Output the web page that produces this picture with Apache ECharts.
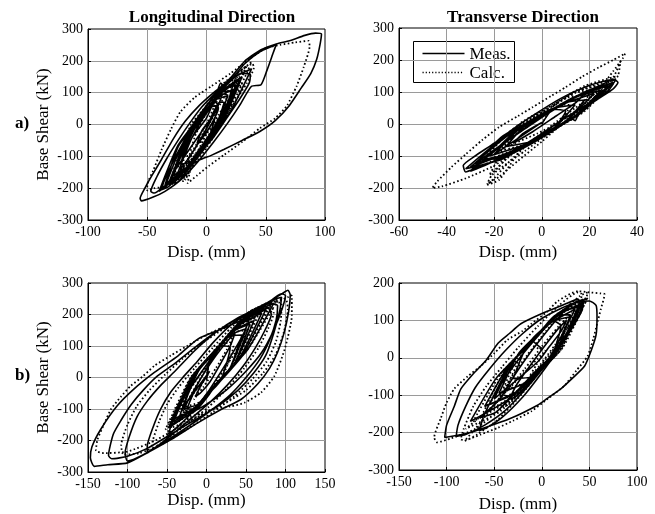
<!DOCTYPE html>
<html>
<head>
<meta charset="utf-8">
<script src="https://cdn.jsdelivr.net/npm/echarts@6/dist/echarts.min.js"></script>
<style>
  html, body { margin: 0; padding: 0; background: #fff; }
  #chart { width: 655px; height: 514px; }
</style>
</head>
<body>
<div id="chart"></div>
<script>
// [disp (mm), base shear (kN)] traces

// a) longitudinal, measured
const aLongMeas = [
  [0,-10],[6,40],[11,70],[15,70],[6,-30],[-2.5,-72],[-11,-115],[-22,-125],[-11,-10],[0,45],[11,100],[22,105],[11,-10],
  [0,-65],[-11,-120],[-28,-160],[-14,-35],[0,35],[15,110],[30,150],[15,20],[0,-55],[-14,-125],[-35,-190],[-24,-70],
  [-12,-10],[0,50],[10,60],[0,-65],[-12,-125],[-24,-180],[-32,-185],[-15,-35],[3,55],[20,140],[38,175],[20,40],[3,-45],
  [-15,-135],[-40,-210],[-24,-65],[-8,15],[9,100],[25,125],[9,-5],[-8,-90],[-24,-170],[-30,-180],[-18,-45],[-6,15],[6,75],
  [18,90],[6,-25],[-6,-85],[-18,-145],[-25,-160],[-12,-40],[0,20],[8,90],[12,130],[16,115],[22,120],[18,70],[10,15],
  [0,-50],[-10,-105],[-20,-150],[-28,-180],[-30,-175],[-24,-120],[-15,-50],[-5,20],[8,85],[20,135],[30,160],[37,158],
  [36,130],[28,80],[18,25],[6,-40],[-8,-100],[-20,-150],[-32,-195],[-38,-205],[-36,-180],[-28,-115],[-18,-45],[-6,30],
  [8,95],[22,145],[32,190],[45,228],[55,245],[59,253],[56,222],[51,170],[46,125],[38,120],[28,60],[18,5],[6,-55],
  [-8,-120],[-22,-175],[-35,-210],[-45,-228],[-55,-240],[-56,-232],[-52,-200],[-46,-160],[-38,-110],[-28,-45],[-18,10],
  [-6,60],[6,100],[18,136],[32,198],[46,235],[59,253],[70,263],[83,280],[92,287],[97,284],[96,255],[93,205],[88,160],
  [80,115],[70,60],[58,12],[45,-22],[30,-50],[15,-78],[4,-97],[-6,-112],[-16,-135],[-26,-165],[-36,-195],[-44,-215],
  [-47,-210],[-42,-165],[-34,-110],[-24,-50],[-14,5],[-4,55],[8,100],[14,120],[12,80],[6,30],[-4,-40],[-14,-100],
  [-22,-140],[-20,-100],[-12,-40],[-2,25],[8,70],[10,50],[4,0],[-4,-45],[-8,-60],[-4,-20],[2,10],[-26,-140],[-14,-35],
  [-2,25],[10,85],[22,110],[10,-5],[-2,-65],[-14,-125],[-34,-185],[-20,-60],[-5,15],[10,90],[28,140],[10,-10],[-5,-85],
  [-20,-160],[-28,-170]
];
// a) longitudinal, calculated
const aLongCalc = [
  [0,0],[7,60],[14,95],[18,95],[8,-5],[-1,-50],[-10,-95],[-20,-100],[-10,10],[0,60],[10,105],[24,125],[12,15],[0,-50],
  [-12,-110],[-26,-135],[-13,0],[0,55],[14,125],[34,185],[16,30],[0,-55],[-12,-130],[-20,-180],[-10,-40],[2,50],[16,130],
  [38,195],[20,50],[4,-50],[-12,-135],[-30,-190],[-18,-60],[-4,30],[10,100],[26,140],[12,25],[-2,-60],[-16,-140],
  [-24,-165],[-10,-80],[2,0],[14,80],[26,150],[38,195],[40,180],[34,130],[22,60],[8,-20],[-8,-100],[-22,-165],[-34,-195],
  [-44,-200],[-50,-208],[-50,-190],[-45,-145],[-38,-80],[-30,-15],[-22,40],[-10,85],[4,120],[20,160],[36,205],[50,240],
  [62,250],[75,258],[86,263],[87,245],[82,180],[76,120],[68,60],[58,20],[45,-12],[30,-55],[15,-95],[2,-130],[-8,-160],
  [-16,-185],[-14,-150],[-8,-90],[0,-30],[10,30],[22,90],[30,130],[27,100],[16,40],[2,-40],[-10,-110],[-18,-175],
  [-14,-145],[-6,-85],[4,-20],[14,40],[18,60],[10,20],[0,-30],[-6,-60],[-2,-20],[-22,-150],[-10,5],[2,60],[14,120],
  [28,150],[14,25],[2,-45],[-10,-100],[-30,-170],[-16,-25],[0,55],[16,135],[32,170],[16,35],[0,-45],[-16,-125],[-26,-160]
];
// a) transverse, measured
const aTranMeas = [
  [0,0],[5,46],[10,40],[5,-14],[0,-35],[-5,-56],[-15,-70],[-7,-4],[1.5,31],[10,67],[18,75],[10,7],[1.5,-29],[-7,-64],
  [-22,-100],[-10,-15],[1,31],[13,82],[25,105],[13,18],[1,-31],[-10,-79],[-28,-125],[-17,-41],[-7,1],[4,47],[14,60],
  [4,-23],[-7,-69],[-17,-111],[-32,-140],[-16,-42],[0,25],[16,92],[30,130],[16,32],[0,-35],[-16,-102],[-25,-115],
  [-13,-45],[-3,10],[8,60],[18,100],[26,125],[30,140],[32,130],[30,110],[24,80],[16,40],[14,10],[13,15],[6,-15],
  [-4,-60],[-16,-105],[-27,-135],[-32,-150],[-33,-130],[-28,-100],[-20,-60],[-12,-15],[-3,30],[8,80],[18,115],[27,135],
  [31,138],[28,105],[20,65],[10,20],[0,-30],[-12,-85],[-24,-130],[-30,-148],[-26,-115],[-18,-70],[-8,-20],[2,30],[12,75],
  [18,95],[14,65],[6,25],[-4,-25],[-12,-60],[-8,-30],[0,5],[-20,-95],[-10,-19],[0,23],[10,65],[22,95],[10,9],[0,-33],
  [-12,-83],[-30,-135],[-15,-40],[0,23],[15,86],[28,120],[15,30],[0,-33],[-15,-96],[-24,-110]
];
// a) transverse, calculated
const aTranCalc = [
  [0,0],[6,61],[12,58],[6,-9],[0,-35],[-6,-61],[-18,-85],[-8,0],[1,39],[11,83],[20,92],[11,13],[1,-31],[-8,-70],
  [-26,-120],[-12,-15],[1,42],[14,100],[28,128],[14,24],[1,-34],[-12,-91],[-22,-160],[-10,-4],[3,53],[18,119],[32,150],
  [18,40],[5,-18],[-8,-75],[-18,-175],[-23,-190],[-20,-170],[-14,-120],[-6,-65],[4,-5],[14,50],[24,105],[30,145],
  [33,195],[32,150],[28,115],[18,60],[6,0],[-8,-70],[-20,-130],[-32,-170],[-42,-195],[-46,-200],[-44,-180],[-38,-135],
  [-32,-95],[-25,-50],[-18,-10],[-10,25],[-4,52],[4,88],[10,115],[17,148],[24,177],[30,200],[35,220],[34,205],[30,165],
  [25,115],[20,63],[14,30],[7,-10],[0,-45],[-7,-84],[-14,-120],[-21,-160],[-23,-188],[-18,-165],[-10,-115],[0,-55],
  [10,10],[18,55],[26,100],[30,125],[26,95],[16,45],[6,0],[-2,-30],[-16,-75],[-6,9],[4,53],[14,97],[24,110],[12,18],
  [2,-26],[-8,-70],[-28,-140],[-14,-27],[0,35],[16,105],[30,140],[16,35],[2,-26],[-12,-88],[-20,-150]
];
// b) longitudinal, measured
const bLongMeas = [
  [0,-10],[5,64],[18,101],[30,95],[18,-9],[5,-46],[-8,-83],[-30,-100],[-12,16],[8,73],[28,130],[45,135],[28,20],[8,-37],
  [-12,-94],[-40,-130],[-15,7],[10,78],[35,150],[60,180],[35,40],[10,-32],[-15,-103],[-48,-160],[-18,-1],[12,84],
  [45,178],[75,215],[45,68],[12,-26],[-18,-111],[-45,-150],[-14,10],[18,101],[52,198],[85,235],[52,88],[18,-4],[-14,-95],
  [-35,-130],[-14,10],[8,73],[30,135],[50,155],[30,30],[8,-37],[-14,-100],[-25,-100],[-12,-25],[4,45],[20,110],[36,160],
  [48,185],[55,190],[48,145],[36,90],[20,25],[2,-45],[-18,-110],[-36,-155],[-48,-180],[-42,-130],[-30,-70],[-14,-10],
  [6,60],[26,125],[46,175],[66,210],[78,220],[82,200],[74,150],[62,95],[46,35],[26,-25],[4,-80],[-22,-135],[-48,-190],
  [-66,-225],[-75,-240],[-75,-218],[-68,-160],[-58,-100],[-45,-45],[-30,0],[-12,50],[8,110],[30,165],[55,205],[80,235],
  [90,228],[88,180],[80,120],[68,60],[50,0],[30,-55],[8,-100],[-20,-150],[-50,-200],[-80,-245],[-100,-265],[-103,-240],
  [-98,-190],[-88,-125],[-75,-75],[-58,-25],[-40,20],[-15,85],[10,140],[40,190],[70,225],[88,250],[95,255],[93,215],
  [85,140],[75,70],[60,15],[40,-40],[15,-90],[-15,-135],[-45,-180],[-75,-225],[-100,-250],[-120,-258],[-124,-248],
  [-118,-180],[-108,-135],[-95,-85],[-80,-40],[-62,5],[-40,45],[-15,95],[15,150],[45,195],[75,235],[95,265],[103,277],
  [106,262],[104,210],[98,140],[90,80],[80,30],[65,-20],[44,-69],[19,-101],[-11,-144],[-45,-197],[-75,-239],[-100,-271],
  [-125,-277],[-142,-282],[-147,-255],[-145,-220],[-134,-165],[-113,-90],[-92,-37],[-66,16],[-36,69],[-11,122],[19,154],
  [48,186],[74,229],[95,266],[100,260],[96,220],[85,150],[70,80],[50,20],[25,-40],[0,-85],[-20,-110],[-28,-100],[-18,-50],
  [-4,10],[12,70],[28,120],[36,140],[30,100],[18,45],[4,-15],[-8,-50],[-14,-60],[-6,-20],[4,20],[-30,-95],[-10,21],
  [12,84],[34,147],[55,170],[34,37],[12,-25],[-10,-89],[-42,-140],[-18,-1],[10,78],[40,164],[70,205],[40,54],[10,-32],
  [-18,-111],[-30,-110]
];
// b) longitudinal, calculated
const bLongCalc = [
  [0,0],[6,72],[20,112],[34,100],[20,2],[6,-38],[-8,-78],[-32,-95],[-14,15],[8,78],[30,140],[50,150],[30,30],[8,-30],
  [-14,-95],[-44,-135],[-18,4],[10,85],[38,165],[65,195],[38,55],[10,-25],[-18,-105],[-52,-165],[-20,0],[14,95],[48,190],
  [80,225],[48,80],[14,-15],[-20,-110],[-48,-150],[-16,10],[20,112],[55,210],[90,245],[55,100],[20,2],[-16,-100],
  [-35,-140],[-27,-90],[-14,-30],[4,45],[22,115],[40,170],[54,195],[60,195],[52,150],[40,95],[22,25],[2,-50],[-20,-120],
  [-40,-165],[-50,-185],[-44,-135],[-32,-75],[-14,-10],[8,65],[30,135],[52,185],[72,215],[82,225],[85,205],[78,155],
  [66,95],[48,30],[26,-35],[2,-95],[-26,-150],[-52,-200],[-68,-225],[-70,-230],[-68,-200],[-60,-140],[-50,-85],[-35,-30],
  [-15,30],[8,95],[32,160],[58,210],[85,240],[95,235],[94,180],[88,115],[76,50],[58,-5],[35,-60],[8,-110],[-22,-160],
  [-55,-210],[-85,-240],[-105,-245],[-108,-215],[-100,-150],[-88,-90],[-72,-40],[-52,10],[-30,60],[-5,110],[25,160],
  [55,210],[85,245],[100,250],[103,215],[98,145],[88,75],[72,15],[50,-40],[25,-80],[0,-110],[-30,-150],[-65,-200],
  [-100,-235],[-130,-240],[-140,-232],[-138,-197],[-130,-150],[-121,-101],[-108,-60],[-96,-27],[-80,5],[-66,37],[-45,70],
  [-24,101],[0,135],[30,170],[60,205],[85,235],[103,255],[108,261],[108,197],[99,90],[86,5],[69,-48],[48,-80],[30,-92],
  [10,-100],[-15,-120],[-35,-150],[-45,-160],[-38,-110],[-24,-50],[-8,10],[10,70],[26,120],[34,135],[26,90],[12,30],
  [-4,-30],[-16,-70],[-8,-30],[2,10],[-34,-110],[-12,21],[12,89],[36,158],[62,190],[36,48],[12,-21],[-12,-89],[-46,-150],
  [-20,-2],[12,89],[44,180],[78,225],[44,70],[12,-21],[-20,-112],[-30,-110]
];
// b) transverse, measured
const bTranMeas = [
  [0,25],[-10,49],[0,75],[10,101],[20,85],[10,1],[0,-25],[-10,-51],[-30,-55],[-15,36],[0,75],[15,114],[30,115],[15,14],
  [0,-25],[-15,-64],[-45,-95],[-24,13],[-3,67],[17,119],[38,135],[17,19],[-3,-33],[-24,-87],[-60,-130],[-35,-21],
  [-9,47],[16,112],[42,145],[16,22],[-9,-43],[-35,-111],[-75,-170],[-48,-55],[-20,18],[8,91],[35,130],[8,1],[-20,-72],
  [-48,-145],[-65,-160],[-44,-110],[-32,-60],[-16,0],[2,60],[20,115],[36,150],[44,155],[42,125],[32,80],[18,25],[0,-40],
  [-20,-105],[-42,-160],[-60,-190],[-66,-195],[-60,-150],[-50,-100],[-36,-45],[-20,10],[0,70],[18,120],[33,145],[40,152],
  [42,140],[37,105],[25,55],[8,-5],[-14,-75],[-38,-140],[-60,-180],[-80,-205],[-90,-210],[-88,-180],[-80,-130],[-70,-80],
  [-55,-30],[-38,20],[-20,65],[0,105],[20,132],[38,150],[50,152],[57,140],[58,110],[57,61],[52,20],[45,-22],[32,-55],
  [20,-83],[5,-110],[-4,-126],[-32,-161],[-60,-187],[-81,-204],[-102,-213],[-100,-180],[-92,-130],[-85,-83],[-71,-40],
  [-58,-5],[-46,39],[-34,65],[-22,91],[-1,117],[24,143],[38,157],[40,140],[34,100],[22,50],[6,-10],[-12,-65],[-28,-105],
  [-34,-110],[-26,-70],[-12,-20],[4,35],[18,80],[26,100],[20,70],[8,30],[-4,-10],[-50,-110],[-30,-8],[-10,44],[10,96],
  [30,110],[10,6],[-10,-46],[-30,-98],[-55,-125],[-32,-13],[-8,49],[18,117],[40,140],[18,27],[-8,-41],[-32,-103],[-40,-100]
];
// b) transverse, calculated
const bTranCalc = [
  [0,20],[-12,39],[0,70],[12,101],[25,95],[12,1],[0,-30],[-12,-61],[-38,-85],[-18,23],[1,73],[20,122],[40,140],[20,22],
  [1,-27],[-18,-77],[-55,-125],[-30,-8],[-4,60],[22,127],[48,160],[22,27],[-4,-40],[-30,-108],[-72,-170],[-43,-42],
  [-14,34],[15,109],[44,150],[15,9],[-14,-66],[-43,-142],[-80,-190],[-48,-120],[-34,-60],[-16,5],[4,70],[24,130],[40,165],
  [48,175],[46,150],[36,100],[20,40],[0,-30],[-22,-100],[-46,-165],[-68,-205],[-80,-220],[-85,-218],[-82,-190],[-72,-130],
  [-58,-75],[-42,-25],[-24,30],[-4,85],[18,140],[38,175],[42,170],[38,130],[26,75],[10,15],[-14,-60],[-40,-130],
  [-70,-190],[-95,-215],[-110,-226],[-113,-213],[-106,-161],[-100,-120],[-92,-83],[-78,-50],[-64,-22],[-50,12],[-36,48],
  [-20,72],[-11,91],[5,122],[17,152],[38,178],[50,175],[62,172],[66,170],[62,130],[59,100],[54,50],[48,4],[36,-35],
  [24,-74],[6,-110],[-11,-143],[-30,-168],[-46,-187],[-64,-205],[-81,-222],[-70,-190],[-54,-140],[-36,-85],[-18,-30],
  [0,30],[18,85],[32,120],[36,125],[28,85],[14,35],[-2,-20],[-14,-55],[-6,-20],[4,20],[-45,-110],[-24,8],[-2,65],
  [20,122],[42,150],[20,22],[-2,-35],[-24,-92],[-62,-150],[-38,-29],[-10,44],[18,117],[46,160],[18,17],[-10,-56],
  [-38,-129],[-50,-130]
];

const xLimits = [[-100, 100, 50], [-60, 40, 20], [-150, 150, 50], [-150, 100, 50]];
const yLimits = [[-300, 300, 100], [-300, 300, 100], [-300, 300, 100], [-300, 200, 100]];
const panels = [[aLongMeas, aLongCalc], [aTranMeas, aTranCalc], [bLongMeas, bLongCalc], [bTranMeas, bTranCalc]];
const legendNames = ['Meas.', 'Calc.'];

const FONT = 'Liberation Serif';
const DOTS = [1.6, 2.4];

const chart = echarts.init(document.getElementById('chart'));

const grids = [
  { left: 88, top: 29, width: 237, height: 191 },
  { left: 399, top: 28, width: 238, height: 192 },
  { left: 88, top: 283, width: 237, height: 189 },
  { left: 399, top: 283, width: 238, height: 191 }
].map(g => ({ ...g, show: true, borderColor: '#000', borderWidth: 1, backgroundColor: 'transparent' }));
const xNameGaps = [24, 24, 16, 26];

const splitLine = {
  show: true, showMinLine: false, showMaxLine: false,
  lineStyle: { color: '#9a9a9a', width: 1 }
};

const xAxes = xLimits.map((l, i) => ({
  type: 'value', gridIndex: i, min: l[0], max: l[1], interval: l[2],
  name: 'Disp. (mm)', nameLocation: 'middle', nameGap: xNameGaps[i],
  nameTextStyle: { fontFamily: FONT, fontSize: 17, color: '#000' },
  axisLine: { show: true, onZero: false, lineStyle: { color: '#000', width: 1 } },
  axisTick: { show: true, inside: true, length: 3, lineStyle: { color: '#000' } },
  axisLabel: { fontFamily: FONT, fontSize: 14, color: '#000', margin: 5 },
  splitLine
}));

const yAxes = yLimits.map((l, i) => ({
  type: 'value', gridIndex: i, min: l[0], max: l[1], interval: l[2],
  name: i % 2 === 0 ? 'Base Shear (kN)' : '', nameLocation: 'middle', nameGap: 36,
  nameTextStyle: { fontFamily: FONT, fontSize: 17, color: '#000' },
  axisLine: { show: true, onZero: false, lineStyle: { color: '#000', width: 1 } },
  axisTick: { show: true, inside: true, length: 3, lineStyle: { color: '#000' } },
  axisLabel: { fontFamily: FONT, fontSize: 14, color: '#000', margin: 5 },
  splitLine
}));

const series = [];
panels.forEach((p, i) => {
  series.push({
    name: legendNames[0], type: 'line', xAxisIndex: i, yAxisIndex: i, data: p[0],
    symbol: 'none', smooth: 0.2, color: '#000',
    lineStyle: { color: '#000', width: 1.6 }
  });
  series.push({
    name: legendNames[1], type: 'line', xAxisIndex: i, yAxisIndex: i, data: p[1],
    symbol: 'none', smooth: 0.2, color: '#000',
    lineStyle: { color: '#000', width: 1.8, type: DOTS }
  });
});

// legend box drawn by hand (solid / dotted samples)
const legendBox = {
  type: 'group', left: 413, top: 41,
  children: [
    { type: 'rect', shape: { x: 0, y: 0, width: 101, height: 41 }, style: { fill: '#fff', stroke: '#000', lineWidth: 1 } },
    { type: 'line', shape: { x1: 9, y1: 12, x2: 51, y2: 12 }, style: { stroke: '#000', lineWidth: 1.4 } },
    { type: 'line', shape: { x1: 9, y1: 31, x2: 50, y2: 31 }, style: { stroke: '#000', lineWidth: 1.5, lineDash: [1.2, 2] } },
    { type: 'text', x: 56, y: 13, style: { text: legendNames[0], font: '17px "Liberation Serif"', fill: '#000', verticalAlign: 'middle' } },
    { type: 'text', x: 56, y: 32, style: { text: legendNames[1], font: '17px "Liberation Serif"', fill: '#000', verticalAlign: 'middle' } }
  ]
};

chart.setOption({
  animation: false,
  title: [
    { text: 'Longitudinal Direction', left: 207, top: 4, textAlign: 'center',
      textStyle: { fontFamily: FONT, fontSize: 17, fontWeight: 'bold', color: '#000' } },
    { text: 'Transverse Direction', left: 518, top: 4, textAlign: 'center',
      textStyle: { fontFamily: FONT, fontSize: 17, fontWeight: 'bold', color: '#000' } }
  ],
  graphic: [
    { type: 'text', left: 15, top: 115, style: { text: 'a)', font: 'bold 17px "Liberation Serif"', fill: '#000' } },
    { type: 'text', left: 15, top: 367, style: { text: 'b)', font: 'bold 17px "Liberation Serif"', fill: '#000' } },
    legendBox
  ],
  grid: grids,
  xAxis: xAxes,
  yAxis: yAxes,
  series
});
</script>
</body>
</html>
